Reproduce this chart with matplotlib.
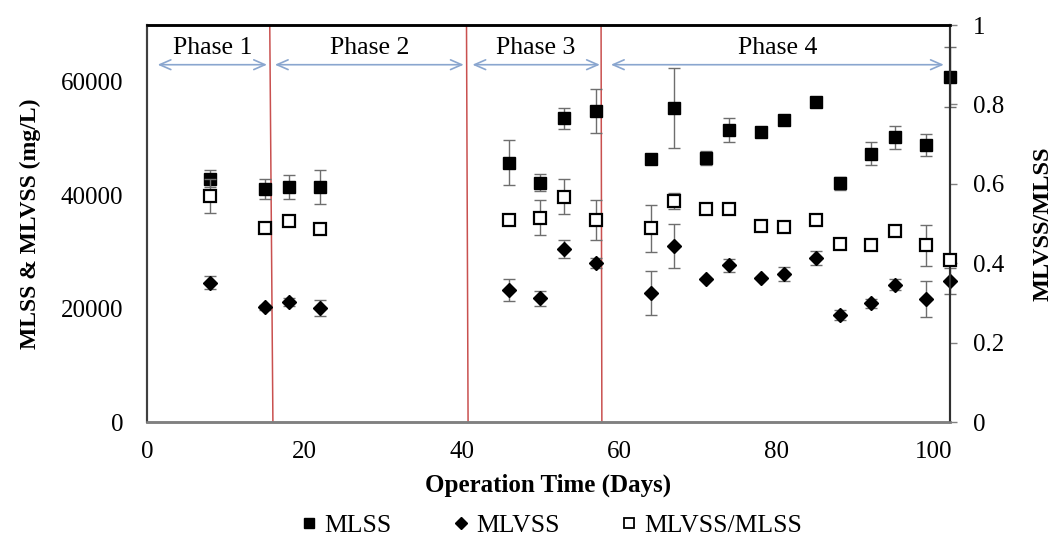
import numpy as np
import matplotlib
matplotlib.use("Agg")
import matplotlib.pyplot as plt
from matplotlib.lines import Line2D

plt.rcParams['font.family'] = ['Liberation Serif', 'DejaVu Serif']

# operation days of each sample
days = [8, 15, 18, 22, 46, 50, 53, 57, 64, 67, 71, 74, 78, 81, 85, 88, 92, 95, 99, 102]

# MLSS (mg/L) and std
mlss = [42900, 41100, 41500, 41400, 45700, 42200, 53600, 54900, 46400, 55400,
        46600, 51500, 51200, 53200, 56400, 42100, 47300, 50200, 48800, 60900]
mlss_err = [1450, 1770, 2100, 3000, 3970, 1530, 1850, 3880, 0, 7100,
            1200, 2060, 500, 0, 0, 1180, 2000, 2030, 1900, 5300]

# MLVSS (mg/L) and std
mlvss = [24600, 20200, 21200, 20100, 23300, 21800, 30500, 28100, 22700, 31100,
         25200, 27600, 25400, 26100, 28900, 18800, 20900, 24200, 21700, 24900]
mlvss_err = [1180, 400, 700, 1470, 1880, 1320, 1620, 880, 3880, 3880,
             0, 1090, 0, 1150, 1180, 880, 830, 940, 3240, 2300]

# MLVSS/MLSS ratio and std
ratio = [0.569, 0.489, 0.506, 0.485, 0.509, 0.515, 0.568, 0.509, 0.488, 0.557,
         0.537, 0.536, 0.494, 0.490, 0.509, 0.449, 0.445, 0.481, 0.445, 0.408]
ratio_err = [0.043, 0, 0, 0, 0, 0.044, 0.044, 0.050, 0.059, 0.021,
             0, 0, 0, 0, 0, 0, 0, 0, 0.052, 0]

# phases
phase_names = ['Phase 1', 'Phase 2', 'Phase 3', 'Phase 4']
phase_start = [1.0, 15.9, 41.0, 58.6]
phase_end = [15.6, 40.6, 57.9, 101.6]
boundary_top = [15.6, 40.6, 57.7]
boundary_bottom = [16.0, 40.8, 57.8]

fig = plt.figure(figsize=(10.59, 5.39), dpi=100)
ax = fig.add_axes([0.1388, 0.217, 0.758, 0.7366])
ax2 = ax.twinx()

err_col = '#6e6e6e'
ax.errorbar(days, mlss, yerr=mlss_err, fmt='none', ecolor=err_col, elinewidth=1,
            capsize=4, capthick=1, zorder=2, clip_on=False)
ax.errorbar(days, mlvss, yerr=mlvss_err, fmt='none', ecolor=err_col, elinewidth=1,
            capsize=4, capthick=1, zorder=2, clip_on=False)
ax.plot(days, mlss, 's', color='black', markersize=8.5, linestyle='none', zorder=3, clip_on=False)
ax.plot(days, mlvss, 'D', color='black', markersize=7, linestyle='none', zorder=3, clip_on=False)

ax2.errorbar(days, ratio, yerr=ratio_err, fmt='none', ecolor=err_col, elinewidth=1,
             capsize=4, capthick=1, zorder=2, clip_on=False)
ax2.plot(days, ratio, 's', markerfacecolor='white', markeredgecolor='black', markeredgewidth=1.6,
         markersize=8, linestyle='none', zorder=3, clip_on=False)

# phase boundaries and arrows
for t, b in zip(boundary_top, boundary_bottom):
    ax.plot([t, b], [70000, 0], color='#c9504f', lw=1.1, zorder=1)

arrow_y = 63000
for name, s, e in zip(phase_names, phase_start, phase_end):
    ax.annotate('', xy=(e, arrow_y), xytext=(s, arrow_y),
                arrowprops=dict(arrowstyle='<->,head_length=0.8,head_width=0.35',
                                color='#8aa6cf', lw=1.2))
    ax.text((s + e) / 2, 66000, name, ha='center', va='center', fontsize=18.5)

ax.set_xlim(0, 102)
ax.set_ylim(0, 70000)
ax2.set_ylim(0, 1)
ax.set_xticks([0, 20, 40, 60, 80, 100])
ax.set_yticks([0, 20000, 40000, 60000])
ax2.set_yticks([0, 0.2, 0.4, 0.6, 0.8, 1])
ax2.set_yticklabels(['0', '0.2', '0.4', '0.6', '0.8', '1'])

ax.tick_params(axis='both', length=0, labelsize=18)
ax.tick_params(axis='x', pad=14)
ax.tick_params(axis='y', pad=17)
ax2.tick_params(axis='y', length=5, width=1, color='#808080', labelsize=18, pad=12)

ax.set_xlabel('Operation Time (Days)', fontsize=18, fontweight='bold', labelpad=7)
ax.set_ylabel('MLSS & MLVSS (mg/L)', fontsize=17, fontweight='bold', labelpad=14)
ax2.set_ylabel('MLVSS/MLSS', fontsize=17.5, fontweight='bold', labelpad=20)

for a in (ax, ax2):
    a.spines['top'].set_color('black')
    a.spines['top'].set_linewidth(1.8)
    a.spines['left'].set_color('#404040')
    a.spines['left'].set_linewidth(1.5)
    a.spines['bottom'].set_color('#808080')
    a.spines['bottom'].set_linewidth(1.8)
    a.spines['right'].set_color('#303030')
    a.spines['right'].set_linewidth(1.5)

handles = [
    Line2D([], [], marker='s', color='black', linestyle='none', markersize=7),
    Line2D([], [], marker='D', color='black', linestyle='none', markersize=6),
    Line2D([], [], marker='s', markerfacecolor='white', markeredgecolor='black',
           markeredgewidth=1.3, linestyle='none', markersize=7),
]
fig.legend(handles, ['MLSS', 'MLVSS', 'MLVSS/MLSS'], loc='center',
           bbox_to_anchor=(0.52, 0.025), ncol=3, frameon=False, fontsize=18.5,
           handlelength=0.8, handletextpad=0.2, columnspacing=2.3,
           borderpad=0.1)

fig.savefig('out.png', dpi=100)
